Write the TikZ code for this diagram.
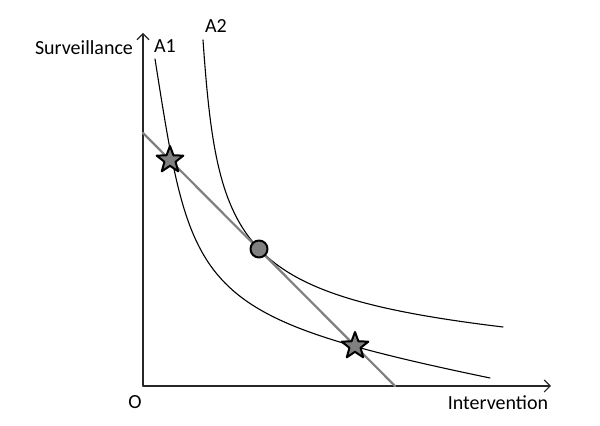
\documentclass[tikz,border=0pt]{standalone}
\usepackage{fontspec}
\setmainfont{Carlito}
\usetikzlibrary{shapes.geometric,arrows.meta,positioning,calc}

\begin{document}
\begin{tikzpicture}[x=0.5pt,y=0.5pt,>={Straight Barb[length=3pt,width=6pt]},line join=round,line cap=round,
    curve/.style={black,line width=0.55pt},
    budget/.style={gray,line width=1.1pt},
    optimum/.style={star,star points=5,star point ratio=2.4,minimum size=14pt,inner sep=0pt,fill=gray,draw=black,line width=1pt},
    tangent/.style={circle,minimum size=8.5pt,inner sep=0pt,fill=gray,draw=black,line width=1pt},
    lbl/.style={font=\fontsize{10}{12}\selectfont}]
      \useasboundingbox (0,0) rectangle (600,426);

      \coordinate (O) at (143,40);
      \coordinate (Ytop) at (143,393);
      \coordinate (Xend) at (551,40);
      \coordinate (L0) at (143,293);
      \coordinate (L1) at (395,40);

      % axes
      \draw[black!85,line width=0.55pt,->] (O)--(Ytop);
      \draw[black!85,line width=0.55pt,->] (O)--(Xend);

      % indifference curves
      \draw[curve] (155,367) .. controls (192,133) and (193,110) .. (490,48);
      \draw[curve] (203,386) .. controls (217.5,179.3) and (237.9,131.1) .. (503,99);

      % budget line
      \draw[budget] (L0)--(L1);

      \node[optimum] (S1) at (170,266) {};
      \node[optimum] (S2) at (355,80) {};
      \node[tangent] (T) at (259,177) {};

      \node[lbl] (ylab) at (84,378) {Surveillance};
      \node[lbl] (xlab) at (498,23) {Intervention};
      \node[lbl] (olab) at (135,24) {O};
      \node[lbl] (a1) at (165,380) {A1};
      \node[lbl] (a2) at (216,400) {A2};
    \end{tikzpicture}
\end{document}
